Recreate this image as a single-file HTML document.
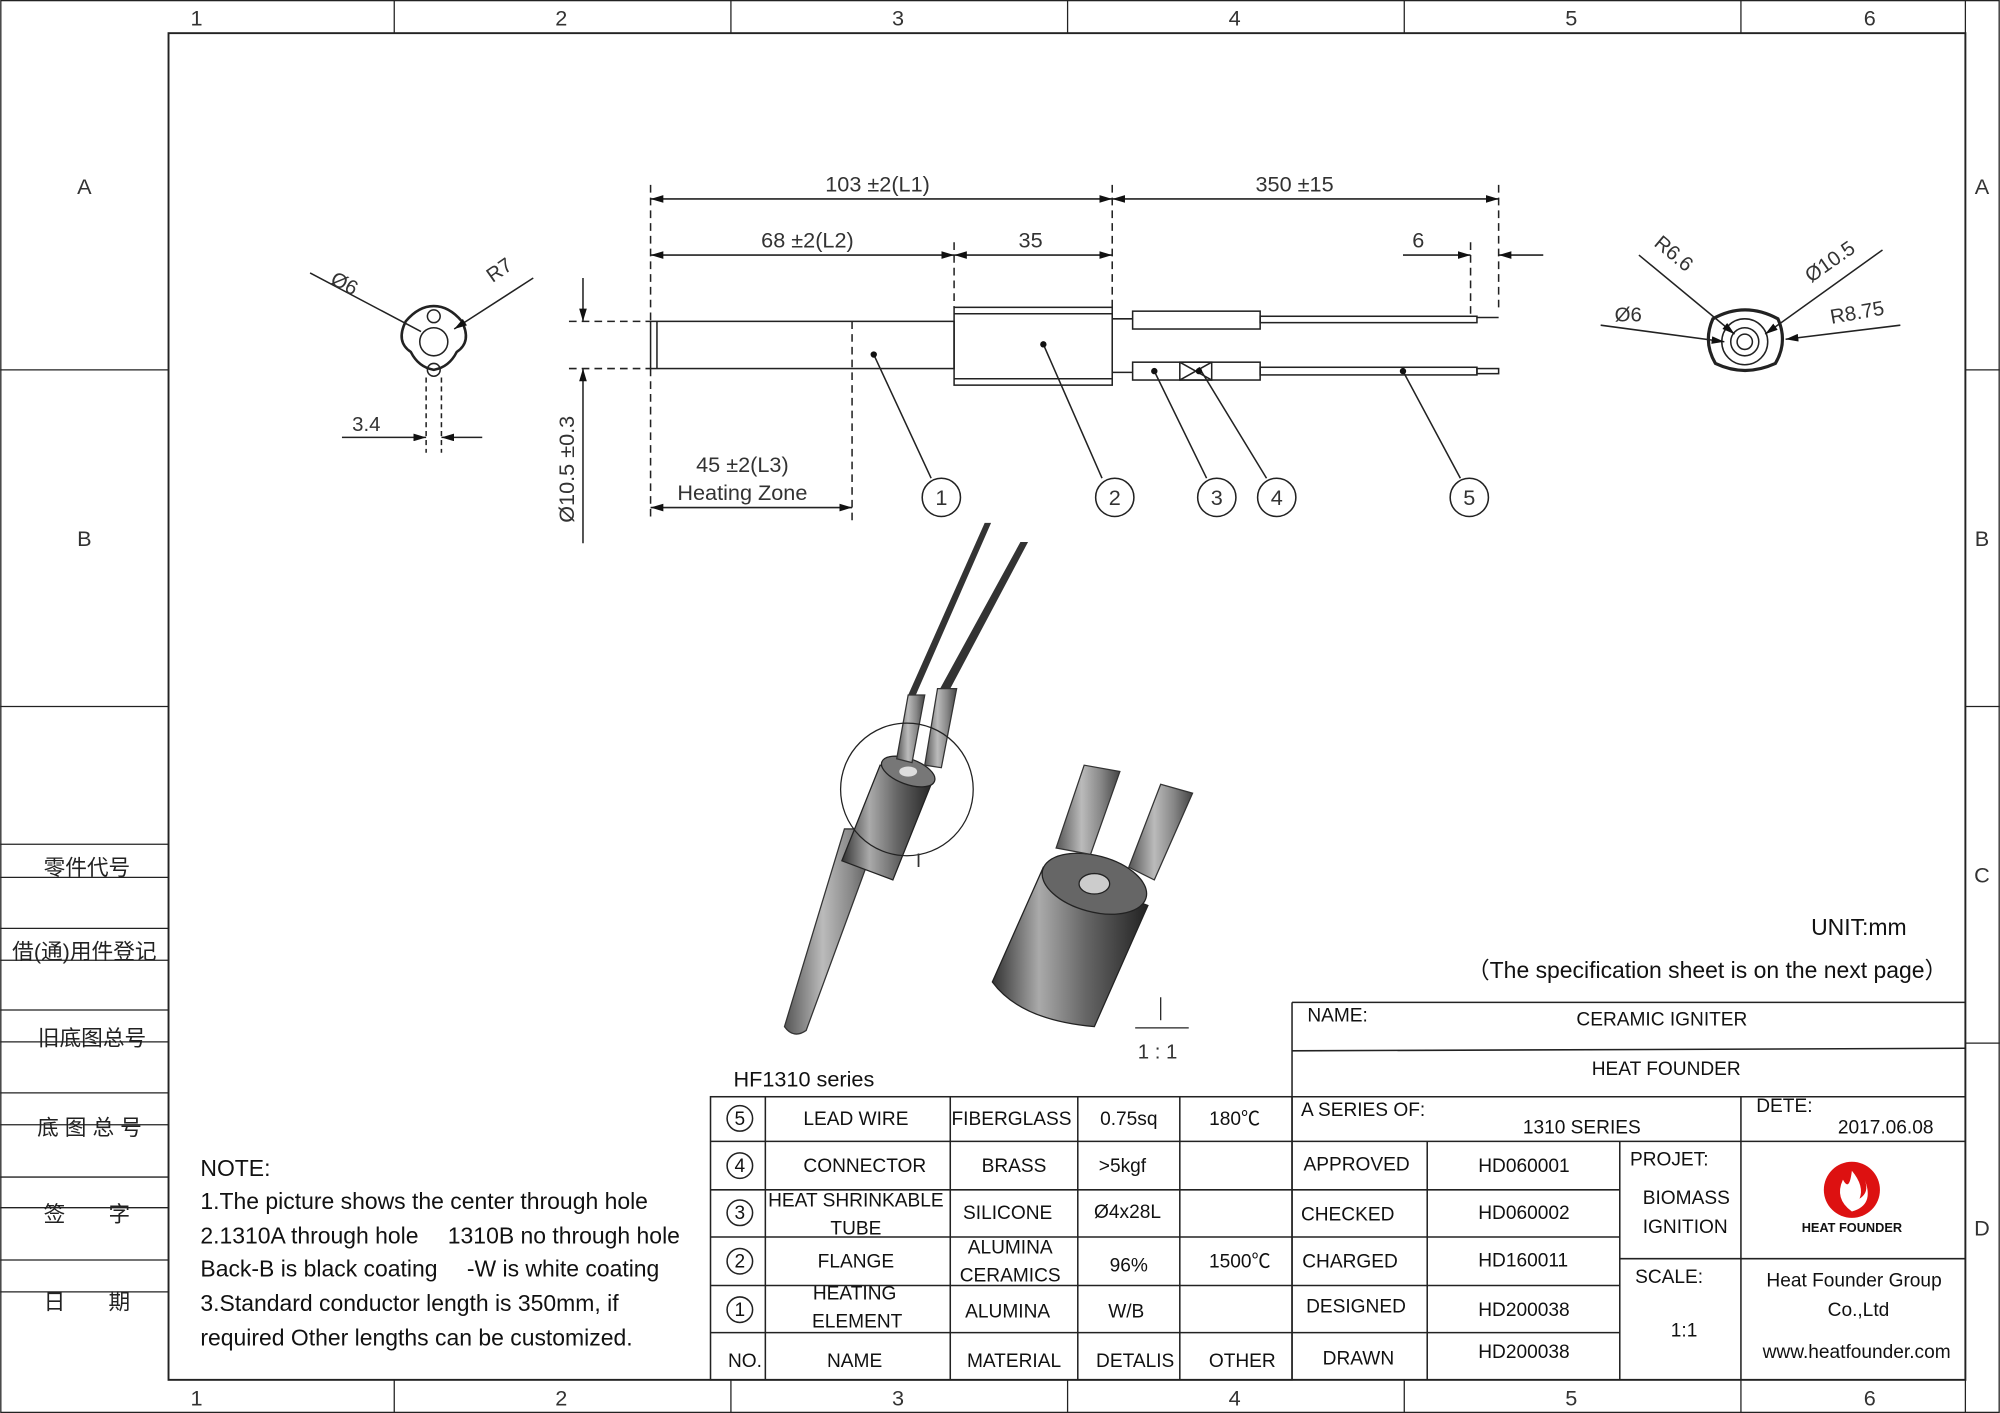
<!DOCTYPE html>
<html><head><meta charset="utf-8"><style>
html,body{margin:0;padding:0;background:#fff;}
svg{display:block;}
.t{font-family:"Liberation Sans","Noto Sans CJK SC",sans-serif;fill:#111;}
.n{font-family:"Liberation Sans Narrow","Liberation Sans",sans-serif;fill:#333;}
.c{font-family:"Liberation Sans","Noto Sans CJK SC",sans-serif;fill:#222;font-size:17px;}
</style></head><body>
<svg width="2000" height="1413" viewBox="0 0 1568 1108" xmlns="http://www.w3.org/2000/svg">
<defs>
<marker id="a" viewBox="0 0 10 6" refX="10" refY="3" markerWidth="10" markerHeight="6" orient="auto-start-reverse" markerUnits="userSpaceOnUse"><path d="M0,0L10,3L0,6z" fill="#111"/></marker>
<linearGradient id="g1" x1="0" y1="0" x2="1" y2="0"><stop offset="0" stop-color="#555"/><stop offset="0.4" stop-color="#bbb"/><stop offset="0.7" stop-color="#888"/><stop offset="1" stop-color="#444"/></linearGradient>
<linearGradient id="g2" x1="0" y1="0" x2="1" y2="0"><stop offset="0" stop-color="#333"/><stop offset="0.3" stop-color="#aaa"/><stop offset="0.6" stop-color="#666"/><stop offset="1" stop-color="#222"/></linearGradient>
<radialGradient id="rl" cx="0.5" cy="0.5" r="0.5"><stop offset="0" stop-color="#fff"/><stop offset="0.6" stop-color="#e33"/><stop offset="1" stop-color="#c11"/></radialGradient>
</defs>
<g fill="none" stroke="#222" stroke-width="1">
<rect x="0.5" y="0.5" width="1567" height="1107"/>
<rect x="132" y="26" width="1409" height="1056" stroke-width="1.5"/>
<line x1="1541" y1="0" x2="1541" y2="1108"/>
<line x1="309" y1="0" x2="309" y2="26"/><line x1="573" y1="0" x2="573" y2="26"/><line x1="837" y1="0" x2="837" y2="26"/><line x1="1101" y1="0" x2="1101" y2="26"/><line x1="1365" y1="0" x2="1365" y2="26"/>
<line x1="309" y1="1082" x2="309" y2="1108"/><line x1="573" y1="1082" x2="573" y2="1108"/><line x1="837" y1="1082" x2="837" y2="1108"/><line x1="1101" y1="1082" x2="1101" y2="1108"/><line x1="1365" y1="1082" x2="1365" y2="1108"/>
<line x1="0" y1="290" x2="132" y2="290"/><line x1="0" y1="554" x2="132" y2="554"/>
<line x1="1541" y1="290" x2="1568" y2="290"/><line x1="1541" y1="554" x2="1568" y2="554"/><line x1="1541" y1="818" x2="1568" y2="818"/>
<line x1="0" y1="662" x2="132" y2="662"/><line x1="0" y1="688" x2="132" y2="688"/><line x1="0" y1="728" x2="132" y2="728"/><line x1="0" y1="753" x2="132" y2="753"/><line x1="0" y1="792" x2="132" y2="792"/><line x1="0" y1="817" x2="132" y2="817"/><line x1="0" y1="857" x2="132" y2="857"/><line x1="0" y1="882" x2="132" y2="882"/><line x1="0" y1="923" x2="132" y2="923"/><line x1="0" y1="947" x2="132" y2="947"/><line x1="0" y1="988" x2="132" y2="988"/><line x1="0" y1="1013" x2="132" y2="1013"/>
</g>
<g class="n" font-size="17" text-anchor="middle">
<text x="154" y="20">1</text><text x="440" y="20">2</text><text x="704" y="20">3</text><text x="968" y="20">4</text><text x="1232" y="20">5</text><text x="1466" y="20">6</text>
<text x="154" y="1102">1</text><text x="440" y="1102">2</text><text x="704" y="1102">3</text><text x="968" y="1102">4</text><text x="1232" y="1102">5</text><text x="1466" y="1102">6</text>
<text x="66" y="152">A</text><text x="66" y="428">B</text><text x="1554" y="152">A</text><text x="1554" y="428">B</text><text x="1554" y="692">C</text><text x="1554" y="969">D</text>
</g>
<g class="c" text-anchor="middle">
<text x="68" y="686">零件代号</text><text x="66" y="752">借(通)用件登记</text><text x="72" y="820">旧底图总号</text><text x="70" y="890">底 图 总 号</text><text x="68" y="958">签　　字</text><text x="68" y="1027">日　　期</text>
</g>

<!-- left cross-section -->
<g fill="none" stroke="#222" stroke-width="1.2">
<path d="M318,252 Q310,268 322,276 Q328,288 340,290 Q352,288 358,276 Q370,268 362,252 Q352,240 340,240 Q328,240 318,252z" stroke-width="2"/>
<circle cx="340" cy="268" r="11"/><circle cx="340" cy="248" r="5"/><circle cx="340" cy="290" r="5"/>
<line x1="243" y1="214" x2="330" y2="260"/><line x1="418" y1="218" x2="356" y2="258" marker-end="url(#a)"/>
<line x1="334" y1="296" x2="334" y2="355" stroke-dasharray="4 3"/><line x1="346" y1="296" x2="346" y2="355" stroke-dasharray="4 3"/>
<line x1="268" y1="343" x2="334" y2="343" marker-end="url(#a)"/><line x1="378" y1="343" x2="346" y2="343" marker-end="url(#a)"/>
</g>
<g class="n" font-size="16"><text x="258" y="222" transform="rotate(28 258 222)">Ø6</text><text x="386" y="222" transform="rotate(-35 386 222)">R7</text><text x="276" y="338">3.4</text></g>

<!-- main side view -->
<g fill="none" stroke="#222" stroke-width="1.2">
<rect x="510" y="252" width="238" height="37"/><line x1="515" y1="252" x2="515" y2="289"/>
<rect x="748" y="241" width="124" height="61"/><line x1="748" y1="246" x2="872" y2="246"/><line x1="748" y1="297" x2="872" y2="297"/>
<rect x="888" y="244" width="100" height="14"/><rect x="988" y="248" width="170" height="5"/><line x1="1158" y1="249" x2="1175" y2="249"/>
<rect x="888" y="284" width="100" height="14"/><rect x="925" y="284" width="25" height="14"/><path d="M925,284L950,298M925,298L950,284"/><rect x="988" y="288" width="170" height="6"/><rect x="1158" y="289" width="17" height="4"/>
<line x1="872" y1="250" x2="888" y2="250"/><line x1="872" y1="292" x2="888" y2="292"/>
<g stroke-dasharray="6 4">
<line x1="510" y1="145" x2="510" y2="252"/><line x1="872" y1="145" x2="872" y2="241"/><line x1="1175" y1="145" x2="1175" y2="245"/><line x1="748" y1="190" x2="748" y2="241"/><line x1="1153" y1="190" x2="1153" y2="250"/>
<line x1="510" y1="289" x2="510" y2="408"/><line x1="668" y1="252" x2="668" y2="408"/>
<line x1="446" y1="252" x2="510" y2="252"/><line x1="446" y1="289" x2="510" y2="289"/>
</g>
<line x1="510" y1="156" x2="872" y2="156" marker-start="url(#a)" marker-end="url(#a)"/>
<line x1="872" y1="156" x2="1175" y2="156" marker-start="url(#a)" marker-end="url(#a)"/>
<line x1="510" y1="200" x2="748" y2="200" marker-start="url(#a)" marker-end="url(#a)"/>
<line x1="748" y1="200" x2="872" y2="200" marker-start="url(#a)" marker-end="url(#a)"/>
<line x1="1100" y1="200" x2="1153" y2="200" marker-end="url(#a)"/><line x1="1210" y1="200" x2="1175" y2="200" marker-end="url(#a)"/>
<line x1="510" y1="398" x2="668" y2="398" marker-start="url(#a)" marker-end="url(#a)"/>
<line x1="457" y1="218" x2="457" y2="252" marker-end="url(#a)"/><line x1="457" y1="426" x2="457" y2="289" marker-end="url(#a)"/>
<line x1="685" y1="278" x2="730" y2="375"/><line x1="818" y1="270" x2="864" y2="375"/><line x1="905" y1="291" x2="946" y2="375"/><line x1="940" y1="288" x2="993" y2="375"/><line x1="1100" y1="291" x2="1145" y2="375"/>
<circle cx="738" cy="390" r="15"/><circle cx="874" cy="390" r="15"/><circle cx="954" cy="390" r="15"/><circle cx="1001" cy="390" r="15"/><circle cx="1152" cy="390" r="15"/>
</g>
<g fill="#111"><circle cx="685" cy="278" r="2.5"/><circle cx="818" cy="270" r="2.5"/><circle cx="905" cy="291" r="2.5"/><circle cx="940" cy="291" r="2.5"/><circle cx="1100" cy="291" r="2.5"/></g>
<g class="n" font-size="17" text-anchor="middle">
<text x="688" y="150">103 ±2(L1)</text><text x="1015" y="150">350 ±15</text><text x="633" y="194">68 ±2(L2)</text><text x="808" y="194">35</text><text x="1112" y="194">6</text>
<text x="582" y="370">45 ±2(L3)</text><text x="582" y="392">Heating Zone</text>
<text x="738" y="396">1</text><text x="874" y="396">2</text><text x="954" y="396">3</text><text x="1001" y="396">4</text><text x="1152" y="396">5</text>
<text x="450" y="368" transform="rotate(-90 450 368)">Ø10.5 ±0.3</text>
</g>

<!-- right cross-section -->
<g fill="none" stroke="#222" stroke-width="1.2">
<path d="M1343,250 Q1335,268 1345,285 Q1368,296 1392,285 Q1402,268 1394,250 Q1368,236 1343,250z" stroke-width="2.5"/>
<circle cx="1368" cy="268" r="18"/><circle cx="1368" cy="268" r="11"/><circle cx="1368" cy="268" r="6"/>
<line x1="1285" y1="200" x2="1360" y2="262" marker-end="url(#a)"/><line x1="1255" y1="255" x2="1352" y2="268" marker-end="url(#a)"/>
<line x1="1476" y1="196" x2="1384" y2="262" marker-end="url(#a)"/><line x1="1490" y1="255" x2="1400" y2="266" marker-end="url(#a)"/>
</g>
<g class="n" font-size="16"><text x="1296" y="192" transform="rotate(40 1296 192)">R6.6</text><text x="1266" y="252">Ø6</text><text x="1420" y="222" transform="rotate(-35 1420 222)">Ø10.5</text><text x="1436" y="254" transform="rotate(-10 1436 254)">R8.75</text></g>

<!-- 3D render 1 -->
<g>
<path d="M662,650 L615,805 Q622,815 632,808 L690,650z" fill="url(#g1)" stroke="#333"/>
<path d="M690,600 L660,675 L700,690 L732,610z" fill="url(#g2)" stroke="#222"/>
<ellipse cx="712" cy="605" rx="22" ry="10" fill="#777" stroke="#222" transform="rotate(20 712 605)"/>
<ellipse cx="712" cy="605" rx="7" ry="4" fill="#ddd"/>
<path d="M703,595 L712,545 L725,545 L715,598z" fill="url(#g1)" stroke="#333"/>
<path d="M725,600 L735,540 L750,540 L738,602z" fill="url(#g1)" stroke="#333"/>
<path d="M712,545 L772,410 L777,410 L718,545z" fill="#333"/>
<path d="M737,540 L800,425 L806,425 L745,540z" fill="#333"/>
<circle cx="711" cy="619" r="52" fill="none" stroke="#222"/>
<text x="718" y="680" class="n" font-size="15">I</text>
</g>
<!-- 3D render 2 -->
<g>
<path d="M818,680 L778,770 Q800,800 858,805 L900,710z" fill="url(#g2)" stroke="#222"/>
<ellipse cx="858" cy="693" rx="42" ry="22" fill="#666" stroke="#222" transform="rotate(15 858 693)"/>
<ellipse cx="858" cy="693" rx="12" ry="8" fill="#ccc" stroke="#222"/>
<path d="M828,665 L850,600 L878,605 L855,670z" fill="url(#g1)" stroke="#333"/>
<path d="M885,680 L910,615 L935,622 L905,690z" fill="url(#g1)" stroke="#333"/>
<line x1="910" y1="782" x2="910" y2="800" stroke="#222"/><line x1="890" y1="806" x2="932" y2="806" stroke="#222"/>
<text x="892" y="830" class="n" font-size="16">1 : 1</text>
</g>

<!-- texts -->
<g class="t">
<text x="1420" y="733" font-size="18">UNIT:mm</text>
<text x="1150" y="767" font-size="18">（The specification sheet is on the next page）</text>
<text x="575" y="852" font-size="17">HF1310 series</text>
<g font-size="18"><text x="157" y="922">NOTE:</text><text x="157" y="948">1.The picture shows the center through hole</text><text x="157" y="975">2.1310A through hole　 1310B no through hole</text><text x="157" y="1001">Back-B is black coating　 -W is white coating</text><text x="157" y="1028">3.Standard conductor length is 350mm, if</text><text x="157" y="1055">required Other lengths can be customized.</text></g>
</g>

<!-- parts table -->
<g fill="none" stroke="#222" stroke-width="1.2">
<rect x="557" y="860" width="456" height="222"/>
<line x1="557" y1="895" x2="1013" y2="895"/><line x1="557" y1="933" x2="1013" y2="933"/><line x1="557" y1="970" x2="1013" y2="970"/><line x1="557" y1="1008" x2="1013" y2="1008"/><line x1="557" y1="1045" x2="1013" y2="1045"/>
<line x1="600" y1="860" x2="600" y2="1082"/><line x1="745" y1="860" x2="745" y2="1082"/><line x1="845" y1="860" x2="845" y2="1082"/><line x1="925" y1="860" x2="925" y2="1082"/>
<circle cx="580" cy="877" r="10"/><circle cx="580" cy="914" r="10"/><circle cx="580" cy="951" r="10"/><circle cx="580" cy="989" r="10"/><circle cx="580" cy="1027" r="10"/>
</g>
<g class="t" font-size="15" text-anchor="middle">
<text x="580" y="882">5</text><text x="580" y="919">4</text><text x="580" y="956">3</text><text x="580" y="994">2</text><text x="580" y="1032">1</text>
<text x="671" y="882">LEAD WIRE</text><text x="793" y="882">FIBERGLASS</text><text x="885" y="882">0.75sq</text><text x="968" y="882">180℃</text>
<text x="678" y="919">CONNECTOR</text><text x="795" y="919">BRASS</text><text x="880" y="919">&gt;5kgf</text>
<text x="671" y="946">HEAT SHRINKABLE</text><text x="671" y="968">TUBE</text><text x="790" y="956">SILICONE</text><text x="884" y="955">Ø4x28L</text>
<text x="671" y="994">FLANGE</text><text x="792" y="983">ALUMINA</text><text x="792" y="1005">CERAMICS</text><text x="885" y="997">96%</text><text x="972" y="994">1500℃</text>
<text x="670" y="1019">HEATING</text><text x="672" y="1041">ELEMENT</text><text x="790" y="1033">ALUMINA</text><text x="883" y="1033">W/B</text>
<text x="584" y="1072">NO.</text><text x="670" y="1072">NAME</text><text x="795" y="1072">MATERIAL</text><text x="890" y="1072">DETALIS</text><text x="974" y="1072">OTHER</text>
</g>

<!-- title block -->
<g fill="none" stroke="#222" stroke-width="1.2">
<line x1="1013" y1="786" x2="1541" y2="786"/><line x1="1013" y1="786" x2="1013" y2="1082"/>
<line x1="1013" y1="824" x2="1541" y2="822"/><line x1="1013" y1="860" x2="1541" y2="860"/><line x1="1013" y1="895" x2="1541" y2="895"/>
<line x1="1013" y1="933" x2="1270" y2="933"/><line x1="1013" y1="970" x2="1270" y2="970"/><line x1="1013" y1="1008" x2="1270" y2="1008"/><line x1="1013" y1="1045" x2="1270" y2="1045"/>
<line x1="1270" y1="987" x2="1541" y2="987"/>
<line x1="1119" y1="895" x2="1119" y2="1082"/><line x1="1270" y1="895" x2="1270" y2="1082"/><line x1="1365" y1="860" x2="1365" y2="1082"/>
</g>
<g class="t" font-size="15">
<text x="1025" y="801">NAME:</text><text x="1236" y="804">CERAMIC IGNITER</text><text x="1248" y="843">HEAT FOUNDER</text>
<text x="1020" y="875">A SERIES OF:</text><text x="1194" y="889">1310 SERIES</text><text x="1377" y="872">DETE:</text><text x="1441" y="889">2017.06.08</text>
<text x="1022" y="918">APPROVED</text><text x="1020" y="957">CHECKED</text><text x="1021" y="994">CHARGED</text><text x="1024" y="1029">DESIGNED</text><text x="1037" y="1070">DRAWN</text>
<text x="1159" y="919">HD060001</text><text x="1159" y="956">HD060002</text><text x="1159" y="993">HD160011</text><text x="1159" y="1032">HD200038</text><text x="1159" y="1065">HD200038</text>
<text x="1278" y="914">PROJET:</text><text x="1288" y="944">BIOMASS</text><text x="1288" y="967">IGNITION</text><text x="1282" y="1006">SCALE:</text><text x="1310" y="1048">1:1</text>
<text x="1385" y="1009">Heat Founder Group</text><text x="1433" y="1032">Co.,Ltd</text><text x="1382" y="1065">www.heatfounder.com</text>
</g>
<circle cx="1452" cy="933" r="22" fill="#d11"/>
<path d="M1452,950 Q1438,940 1445,925 Q1450,935 1452,918 Q1462,930 1458,940 Q1466,935 1462,925 Q1470,945 1452,950z" fill="#fff"/>
<text x="1452" y="966" class="t" font-size="10" font-weight="bold" text-anchor="middle">HEAT FOUNDER</text>
</svg>
</body></html>
